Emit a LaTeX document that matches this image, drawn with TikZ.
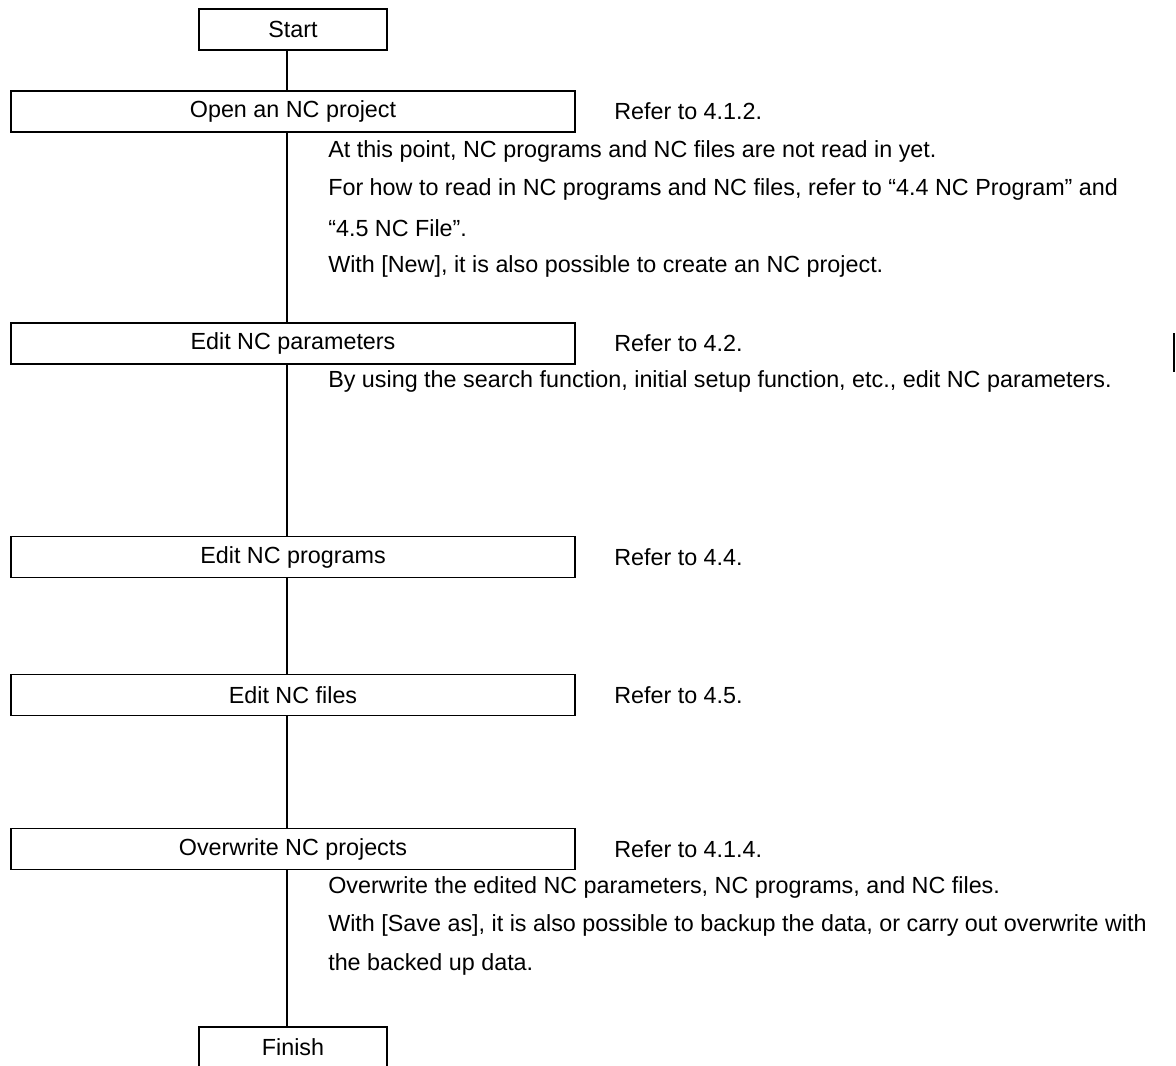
\documentclass[tikz,border=0pt]{standalone}
\usepackage{fontspec}
\setmainfont{Liberation Sans}

\begin{document}
\begin{tikzpicture}[x=0.75pt,y=0.75pt,yscale=-1,xscale=1,
  stepbox/.style={draw,line width=1.1pt,minimum height=30.75pt,inner sep=0pt,font=\fontsize{17.5}{20}\selectfont},
  note/.style={anchor=west,inner sep=0pt,font=\fontsize{17.5}{20}\selectfont},
  link/.style={line width=1.1pt}]
\useasboundingbox (0,0) rectangle (1176,1065); %set diagram to the size of the page

% Boxes
\draw (293,29.5) node [stepbox,minimum width=141pt] (start) {Start};
\draw (293,111.5) node [stepbox,minimum width=423pt] (open) {Open an NC project};
\draw (293,343.5) node [stepbox,minimum width=423pt] (param) {Edit NC parameters};
\draw (293,557) node [stepbox,minimum width=423pt] (prog) {Edit NC programs};
\draw (293,695) node [stepbox,minimum width=423pt] (file) {Edit NC files};
\draw (293,849) node [stepbox,minimum width=423pt] (save) {Overwrite NC projects};
\draw (293,1047.5) node [stepbox,minimum width=141pt] (finish) {Finish};

% Connectors
\draw [link] ([xshift=-4.5pt]start.south) -- ([xshift=-4.5pt]open.north);
\draw [link] ([xshift=-4.5pt]open.south) -- ([xshift=-4.5pt]param.north);
\draw [link] ([xshift=-4.5pt]param.south) -- ([xshift=-4.5pt]prog.north);
\draw [link] ([xshift=-4.5pt]prog.south) -- ([xshift=-4.5pt]file.north);
\draw [link] ([xshift=-4.5pt]file.south) -- ([xshift=-4.5pt]save.north);
\draw [link] ([xshift=-4.5pt]save.south) -- ([xshift=-4.5pt]finish.north);

%Straight Lines
\draw [link] (1174,333) -- (1174,372);

% Text Node
\draw (614,111.5) node [note] (ref1) {Refer to 4.1.2.};
% Text Node
\draw (328,151) node [note] (t1) {At this point, NC programs and NC files are not read in yet.};
% Text Node
\draw (328,189.5) node [note] (t2) {For how to read in NC programs and NC files, refer to “4.4 NC Program” and};
% Text Node
\draw (328,228) node [note] (t3) {“4.5 NC File”.};
% Text Node
\draw (328,266.5) node [note] (t4) {With [New], it is also possible to create an NC project.};
% Text Node
\draw (614,343.5) node [note] (ref2) {Refer to 4.2.};
% Text Node
\draw (328,381) node [note] (t5) {By using the search function, initial setup function, etc., edit NC parameters.};
% Text Node
\draw (614,557) node [note] (ref3) {Refer to 4.4.};
% Text Node
\draw (614,695) node [note] (ref4) {Refer to 4.5.};
% Text Node
\draw (614,849) node [note] (ref5) {Refer to 4.1.4.};
% Text Node
\draw (328,887) node [note] (t6) {Overwrite the edited NC parameters, NC programs, and NC files.};
% Text Node
\draw (328,925.5) node [note] (t7) {With [Save as], it is also possible to backup the data, or carry out overwrite with};
% Text Node
\draw (328,964) node [note] (t8) {the backed up data.};

\end{tikzpicture}
\end{document}
